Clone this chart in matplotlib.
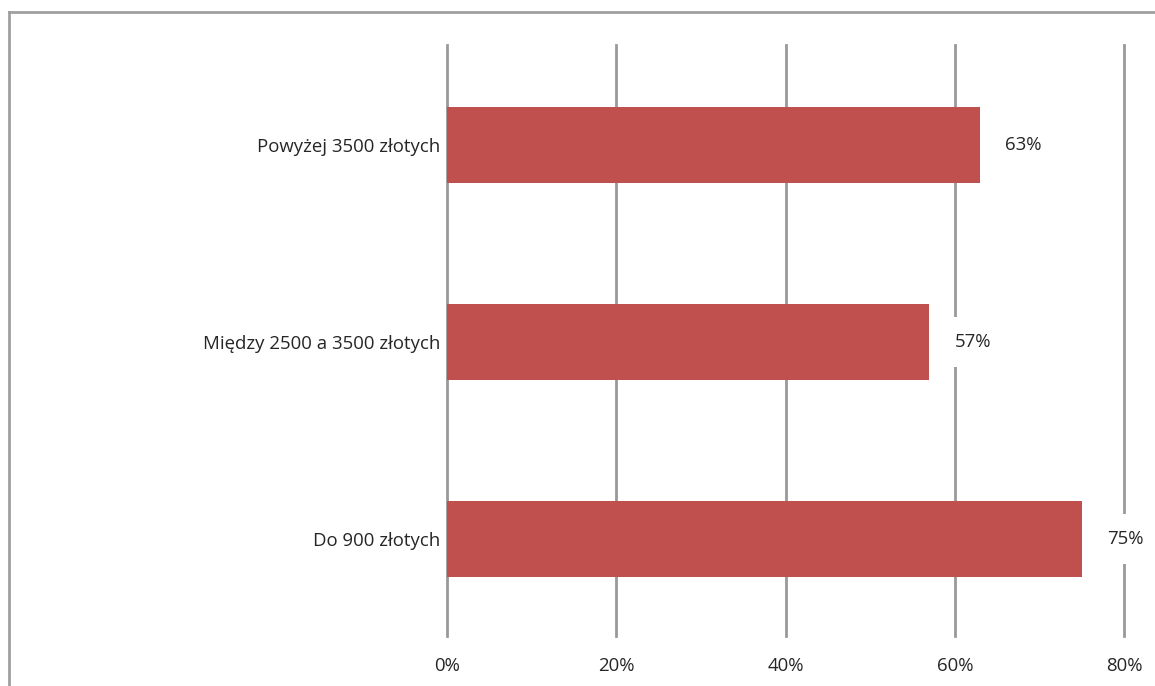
import matplotlib
matplotlib.use('Agg')
import matplotlib.pyplot as plt
from matplotlib.lines import Line2D
from matplotlib.ticker import FuncFormatter

plt.rcParams['font.family'] = ['Open Sans', 'DejaVu Sans']

# Data (bottom to top)
categories = ['Do 900 złotych', 'Między 2500 a 3500 złotych', 'Powyżej 3500 złotych']
values = [75, 57, 63]
value_labels = ['75%', '57%', '63%']
xticks = [0, 20, 40, 60, 80]

W, H = 1155, 686
fig = plt.figure(figsize=(W / 100, H / 100), dpi=100)
fig.patch.set_facecolor('white')

# outer frame (top and left edges visible)
fig.add_artist(Line2D([9 / W, 1.0], [1 - 12 / H, 1 - 12 / H], color='#a0a0a0', lw=2))
fig.add_artist(Line2D([9 / W, 9 / W], [0, 1 - 12 / H], color='#a0a0a0', lw=2))

ax = fig.add_axes([447 / W, 50 / H, (1124 - 447) / W, 591 / H])
ax.set_xlim(0, 80)
ax.set_ylim(-0.492, 2.508)

ax.set_axisbelow(True)
ax.grid(axis='x', color='#999999', linewidth=2)
ax.grid(axis='y', visible=False)
for gl in ax.get_xgridlines():
    gl.set_clip_on(False)
for s in ax.spines.values():
    s.set_visible(False)

ax.barh(range(len(categories)), values, height=0.39, color='#c0504d', zorder=2)

for i, (v, lab) in enumerate(zip(values, value_labels)):
    ax.annotate(lab, xy=(v, i), xytext=(18, 0), textcoords='offset points',
                ha='left', va='center', fontsize=13.4, color='#262626',
                bbox=dict(boxstyle='square,pad=0.85', fc='white', ec='none'),
                zorder=3, annotation_clip=False)

ax.set_yticks(range(len(categories)))
ax.set_yticklabels(categories, fontsize=13.4, color='#262626')
ax.set_xticks(xticks)
ax.xaxis.set_major_formatter(FuncFormatter(lambda x, p: f'{x:.0f}%'))
ax.tick_params(axis='x', length=0, pad=15, labelsize=13.4, labelcolor='#262626')
ax.tick_params(axis='y', length=0, pad=5)
for gl in ax.get_xgridlines():
    gl.set_clip_on(False)

fig.savefig('out.png', dpi=100, facecolor='white')
